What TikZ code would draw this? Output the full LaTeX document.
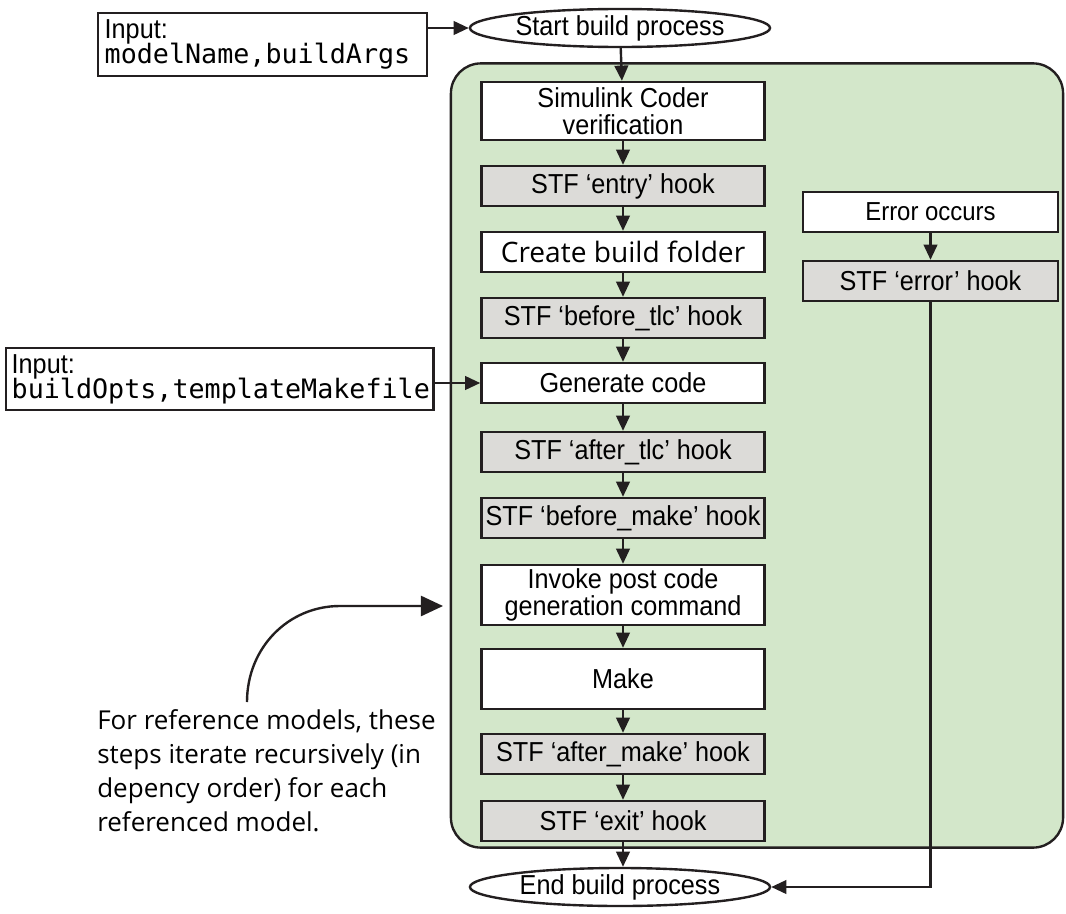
\documentclass[tikz,border=0pt]{standalone}
\usepackage{fontspec}
\usepackage{tikz}
\usetikzlibrary{arrows.meta,positioning,shapes.geometric}
\newfontfamily\helv[Ligatures=TeX,FakeStretch=0.92]{Liberation Sans}
\newfontfamily\myriad[Ligatures=TeX]{Open Sans}
\newfontfamily\monofont{DejaVu Sans Mono}
\definecolor{panelgreen}{HTML}{D3E7CA}
\definecolor{hookgray}{HTML}{DCDBD8}
\definecolor{ink}{HTML}{231F20}

\begin{document}
\begin{tikzpicture}[
 x=0.025cm,y=-0.025cm,
 font=\helv\fontsize{19.5}{21}\selectfont,
 stepbox/.style={draw=ink,fill=white,line width=1.7pt,minimum width=7.075cm,minimum height=1.0cm,align=center,inner sep=1pt},
 hookbox/.style={stepbox,fill=hookgray},
 inbox/.style={draw=ink,fill=white,line width=1.7pt,align=left,inner xsep=3pt,inner ysep=1pt,anchor=west},
 term/.style={draw=ink,fill=white,ellipse,line width=1.7pt,minimum width=7.5cm,minimum height=0.95cm,inner sep=0pt},
 panel/.style={draw=ink,fill=panelgreen,line width=1.7pt,rounded corners=0.75cm},
 arr/.style={-{Triangle[length=3.8mm,width=3.4mm]},line width=1.7pt,draw=ink},
 bigarr/.style={-{Triangle[length=5.5mm,width=5mm]},line width=1.7pt,draw=ink}
]
\useasboundingbox (0,0) rectangle (1066,914);

% green group
\node[panel,minimum width=15.3cm,minimum height=19.6cm] (grp) at (757,455.5) {};

% terminals
\node[term] (st) at (620,28) {Start build process};
\node[term] (en) at (620,887) {End build process};

% main steps
\node[stepbox,minimum height=1.45cm] (ver) at (623,111) {Simulink Coder\\[-2pt]verification};
\node[hookbox] (entry) at (623,186) {STF `entry' hook};
\node[stepbox,font=\myriad\fontsize{20}{22}\selectfont] (mkdir) at (623,252) {Create build folder};
\node[hookbox] (beftlc) at (623,318) {STF `before\_tlc' hook};
\node[stepbox] (gen) at (623,383) {Generate code};
\node[hookbox] (afttlc) at (623,452) {STF `after\_tlc' hook};
\node[hookbox] (befmake) at (623,518) {STF `before\_make' hook};
\node[stepbox,minimum height=1.5cm] (post) at (623,595) {Invoke post code\\[-2pt]generation command};
\node[stepbox,minimum height=1.5cm] (make) at (623,679) {Make};
\node[hookbox] (aftmake) at (623,754) {STF `after\_make' hook};
\node[hookbox] (exit) at (623,821) {STF `exit' hook};

% error path
\node[stepbox,minimum width=6.375cm,font=\helv\fontsize{18.5}{20}\selectfont] (err) at (930.5,212) {Error occurs};
\node[hookbox,minimum width=6.375cm] (errh) at (930.5,281) {STF `error' hook};

% inputs
\node[inbox,minimum width=8.225cm,minimum height=1.575cm,text width=7.9cm] (in1) at (97,44.5)
 {Input:\\[-3pt]{\monofont\fontsize{19}{20}\selectfont modelName,buildArgs}};
\node[inbox,minimum width=10.675cm,minimum height=1.55cm,text width=10.4cm] (in2) at (5,379)
 {Input:\\[-3pt]{\monofont\fontsize{19}{20}\selectfont buildOpts,templateMakefile}};

% note
\node[anchor=north west,align=left,inner sep=0pt,font=\myriad\fontsize{18.5}{24.2}\selectfont] (note) at (97,709)
 {For reference models, these\\steps iterate recursively (in\\depency order) for each\\referenced model.};
\coordinate (c1) at (247,702);
\coordinate (c2) at (443,606);

% flow
\draw[arr] (in1.east |- st) -- (st.west);
\draw[arr] (st) -- (ver);
\draw[arr] (ver) -- (entry);
\draw[arr] (entry) -- (mkdir);
\draw[arr] (mkdir) -- (beftlc);
\draw[arr] (beftlc) -- (gen);
\draw[arr] (gen) -- (afttlc);
\draw[arr] (afttlc) -- (befmake);
\draw[arr] (befmake) -- (post);
\draw[arr] (post) -- (make);
\draw[arr] (make) -- (aftmake);
\draw[arr] (aftmake) -- (exit);
\draw[arr] (exit) -- (en.north -| exit);
\draw[arr] (in2.east |- gen) -- (gen.west);
\draw[arr] (err) -- (errh);
\draw[arr] (errh.south) |- (en.east);
\draw[bigarr] (c1) .. controls (247,648) and (288,606) .. (340,606) -- (c2);
\end{tikzpicture}
\end{document}
